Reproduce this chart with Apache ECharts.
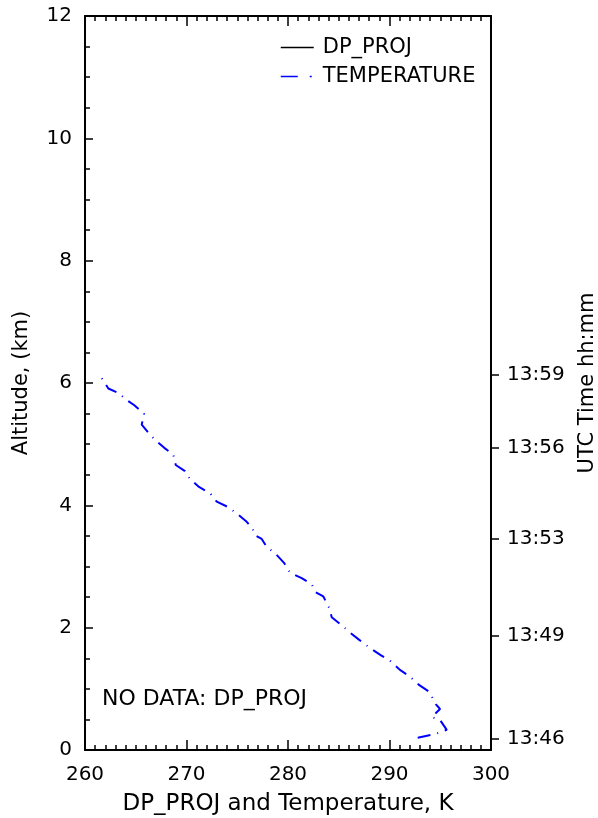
<!DOCTYPE html>
<html>
<head>
<meta charset="utf-8">
<script src="https://cdn.jsdelivr.net/npm/echarts@6/dist/echarts.min.js"></script>
<style>
  html, body { margin: 0; padding: 0; background: #fff; overflow: hidden; }
  #chart { width: 598px; height: 818px; }
</style>
</head>
<body>
<div id="chart"></div>
<script>
// Temperature (K) and altitude (km), in time order (13:46 at the bottom -> 13:59 at the top)
const temperature = [292.78, 294.48, 295.64, 294.98, 294.16, 294.98, 294.55, 293.92, 292.94, 292.02,
  291.03, 290.12, 289.13, 287.98, 287.02, 286.11, 285.29, 284.31, 284.07, 283.48,
  282.73, 282.34, 281.35, 280.20, 279.61, 278.82, 277.90, 277.41, 276.75, 276.48,
  275.93, 275.00, 274.12, 272.98, 272.32, 271.23, 270.34, 269.85, 268.94, 268.70,
  267.81, 266.90, 266.33, 265.59, 265.81, 264.83, 263.94, 263.38, 262.30, 261.65, 261.15];
const altitude = [0.20, 0.26, 0.33, 0.49, 0.54, 0.67, 0.75, 0.95, 1.06, 1.20,
  1.31, 1.45, 1.55, 1.68, 1.80, 1.92, 2.04, 2.17, 2.32, 2.51,
  2.58, 2.71, 2.81, 2.90, 3.06, 3.20, 3.32, 3.45, 3.51, 3.63,
  3.73, 3.86, 3.97, 4.06, 4.20, 4.30, 4.43, 4.56, 4.66, 4.83,
  4.94, 5.07, 5.17, 5.32, 5.50, 5.64, 5.74, 5.83, 5.91, 6.08, 6.10];
const dpProj = []; // NO DATA
// Right-hand time axis: altitude at which each time label sits
const timeTickAltitudes = [0.19, 1.87, 3.45, 4.94, 6.13];
const timeTickLabels = ['13:46', '13:49', '13:53', '13:56', '13:59'];

const FONT = 'DejaVu Sans';
const tempData = temperature.map((t, i) => [t, altitude[i]]);
const hidden = { color: 'rgba(0,0,0,0)', borderColor: 'rgba(0,0,0,0)', borderWidth: 0, opacity: 0 };

const chart = echarts.init(document.getElementById('chart'), null, { renderer: 'canvas', width: 598, height: 818 });
chart.setOption({
  backgroundColor: '#ffffff',
  animation: false,
  textStyle: { fontFamily: FONT, color: '#000' },
  grid: { left: 85, right: 107, top: 16, bottom: 68, containLabel: false, outerBoundsMode: 'none' },
  legend: {
    orient: 'vertical',
    left: 275,
    top: 32,
    itemWidth: 33,
    itemHeight: 14,
    itemGap: 8,
    textStyle: { fontFamily: FONT, fontSize: 21, color: '#000', padding: [0, 0, 0, 4] },
    data: [
      { name: 'DP_PROJ', itemStyle: hidden, lineStyle: { color: '#000', width: 1.5, type: 'solid' } },
      { name: 'TEMPERATURE', itemStyle: hidden, lineStyle: { color: '#0000ff', width: 1.5, type: [17, 12, 2, 12] } }
    ]
  },
  xAxis: [
    {
      type: 'value', min: 260, max: 300, interval: 10, position: 'bottom',
      name: 'DP_PROJ and Temperature, K', nameLocation: 'middle', nameGap: 43,
      nameTextStyle: { fontFamily: FONT, fontSize: 23, color: '#000' },
      axisLine: { show: true, onZero: false, lineStyle: { color: '#000', width: 2 } },
      axisTick: { show: true, inside: true, length: 10, lineStyle: { color: '#000', width: 1.5 } },
      minorTick: { show: true, splitNumber: 10, length: 5, lineStyle: { color: '#000', width: 1.5 } },
      axisLabel: { margin: 15, fontFamily: FONT, fontSize: 20, color: '#000' },
      splitLine: { show: false }
    },
    {
      type: 'value', min: 260, max: 300, interval: 10, position: 'top',
      axisLine: { show: true, onZero: false, lineStyle: { color: '#000', width: 2 } },
      axisTick: { show: true, inside: true, length: 10, lineStyle: { color: '#000', width: 1.5 } },
      minorTick: { show: true, splitNumber: 10, length: 5, lineStyle: { color: '#000', width: 1.5 } },
      axisLabel: { show: false },
      splitLine: { show: false }
    }
  ],
  yAxis: [
    {
      type: 'value', min: 0, max: 12, interval: 2, position: 'left',
      name: 'Altitude, (km)', nameLocation: 'middle', nameGap: 53, nameRotate: 90,
      nameTextStyle: { fontFamily: FONT, fontSize: 21, color: '#000' },
      axisLine: { show: true, onZero: false, lineStyle: { color: '#000', width: 2 } },
      axisTick: { show: true, inside: true, length: 8, lineStyle: { color: '#000', width: 1.5 } },
      minorTick: { show: true, splitNumber: 4, length: 5, lineStyle: { color: '#000', width: 1.5 } },
      axisLabel: { margin: 13, fontFamily: FONT, fontSize: 20, color: '#000' },
      splitLine: { show: false }
    },
    {
      type: 'value', min: 0, max: 12, position: 'right',
      name: 'UTC Time hh:mm', nameLocation: 'middle', nameGap: 86, nameRotate: 90,
      nameTextStyle: { fontFamily: FONT, fontSize: 21, color: '#000' },
      axisLine: { show: true, onZero: false, lineStyle: { color: '#000', width: 2 } },
      axisTick: { show: true, inside: false, length: 8, customValues: timeTickAltitudes,
        lineStyle: { color: '#000', width: 1.5 } },
      axisLabel: {
        margin: 16, fontFamily: FONT, fontSize: 20, color: '#000',
        customValues: timeTickAltitudes,
        formatter: function (v) {
          let best = 0;
          for (let i = 1; i < timeTickAltitudes.length; i++) {
            if (Math.abs(timeTickAltitudes[i] - v) < Math.abs(timeTickAltitudes[best] - v)) best = i;
          }
          return timeTickLabels[best];
        }
      },
      splitLine: { show: false }
    }
  ],
  graphic: [
    {
      type: 'text', left: 102, top: 688,
      style: { text: 'NO DATA: DP_PROJ', font: '22px "DejaVu Sans"', fill: '#000' }
    }
  ],
  series: [
    {
      name: 'DP_PROJ', type: 'line', xAxisIndex: 0, yAxisIndex: 0,
      data: dpProj, showSymbol: false, symbol: 'none',
      lineStyle: { color: '#000', width: 1.5 }, itemStyle: { color: '#000' }
    },
    {
      name: 'TEMPERATURE', type: 'line', xAxisIndex: 0, yAxisIndex: 0,
      data: tempData, showSymbol: false, symbol: 'none',
      lineStyle: { color: '#0000ff', width: 2, type: [13, 7, 1, 7] },
      itemStyle: { color: '#0000ff' }
    }
  ]
});
</script>
</body>
</html>
